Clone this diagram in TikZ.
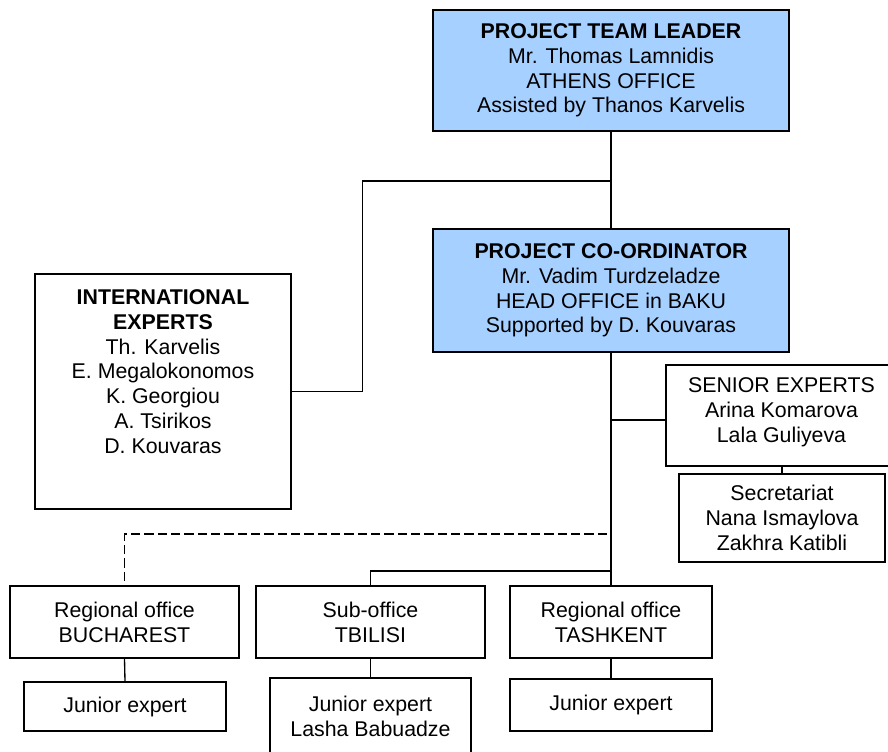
\documentclass[tikz,border=0pt]{standalone}
\usepackage{fontspec}
\setmainfont{Liberation Sans}
\definecolor{headblue}{RGB}{166,208,255}

\begin{document}
\begin{tikzpicture}[x=0.75pt,y=0.75pt,yscale=-1,xscale=1,
  box/.style={draw, line width=1.1pt, align=center, inner sep=1pt, font=\fontsize{16}{18.6}\selectfont},
  headbox/.style={box, fill=headblue},
  boxsize/.style 2 args={minimum width=#1*0.75pt, minimum height=#2*0.75pt},
  link/.style={line width=1pt},
  mainlink/.style={line width=1.7pt}]
\useasboundingbox (0,0) rectangle (888,752);
\clip (0,0) rectangle (888,752);

% Head boxes
\node[headbox, boxsize={356}{121}] (leader) at (611,70.5) {\textbf{PROJECT TEAM LEADER}\\Mr. Thomas Lamnidis\\ATHENS OFFICE\\Assisted by Thanos Karvelis};
\node[headbox, boxsize={356}{123}] (coord) at (611,290.5) {\textbf{PROJECT CO-ORDINATOR}\\Mr. Vadim Turdzeladze\\HEAD OFFICE in BAKU\\Supported by D. Kouvaras};

% Experts
\node[box, boxsize={256}{235}, text depth=30pt] (intl) at (163,391.5) {\textbf{INTERNATIONAL}\\\textbf{EXPERTS}\\Th. Karvelis\\E. Megalokonomos\\K. Georgiou\\A. Tsirikos\\D. Kouvaras};
\node[box, boxsize={231}{101}, text depth=8pt] (senior) at (781.5,415.5) {SENIOR EXPERTS\\Arina Komarova\\Lala Guliyeva};
\node[box, boxsize={206}{88}] (secr) at (782,518) {Secretariat\\Nana Ismaylova\\Zakhra Katibli};

% Offices
\node[box, boxsize={229}{72}] (buch) at (124.5,622) {Regional office\\BUCHAREST};
\node[box, boxsize={229}{72}] (tbil) at (370.5,622) {Sub-office\\TBILISI};
\node[box, boxsize={202}{72}] (tash) at (611,622) {Regional office\\TASHKENT};

% Junior experts
\node[box, boxsize={202}{49}] (jbuch) at (125,706.5) {Junior expert};
\node[box, boxsize={201}{76}] (jtbil) at (370.5,716) {Junior expert\\Lasha Babuadze};
\node[box, boxsize={202}{52}] (jtash) at (611,705) {Junior expert};

% Links
\coordinate (intltee) at (611,181);
\coordinate (seniortee) at (611,420);
\coordinate (dashtee) at (607,534);
\coordinate (tbiltee) at (611,571);
\draw[link] (leader.south) -- (coord.north);
\draw[link] (intl.east) -- ++(71,0) |- (intltee);
\draw[mainlink] (coord.south) -- (tash.north);
\draw[link] (seniortee) -- (seniortee -| senior.west);
\draw[link] (secr.north) -- (secr.north |- senior.south);
\draw[link, dash pattern=on 7pt off 3pt] (dashtee) -| (buch.north);
\draw[link] (tbiltee) -| (tbil.north);
\draw[link] (buch.south) -- (jbuch.north);
\draw[link] (tbil.south) -- (jtbil.north);
\draw[link] (tash.south) -- (jtash.north);

\end{tikzpicture}
\end{document}
